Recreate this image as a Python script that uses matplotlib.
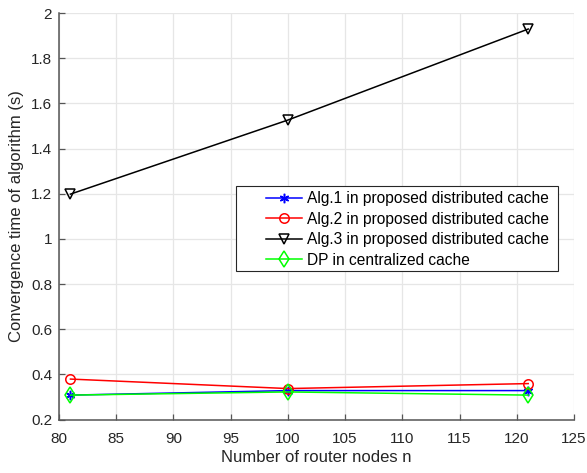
import matplotlib
matplotlib.use("Agg")
import matplotlib.pyplot as plt
from matplotlib.patches import Rectangle

plt.rcParams['font.family'] = ['Liberation Sans', 'DejaVu Sans']

n = [81, 100, 121]
alg1 = [0.308, 0.328, 0.328]
alg2 = [0.379, 0.337, 0.359]
alg3 = [1.198, 1.526, 1.929]
dp = [0.308, 0.322, 0.308]
labels = ['Alg.1 in proposed distributed cache',
          'Alg.2 in proposed distributed cache',
          'Alg.3 in proposed distributed cache',
          'DP in centralized cache']

W, H = 587, 473
fig = plt.figure(figsize=(W/100, H/100), dpi=100)
L, R, T, B = 59, 574, 13, 419.5
ax = fig.add_axes([L/W, 1-B/H, (R-L)/W, (B-T)/H])

ms = 6.8
lw = 1.1
ax.plot(n, alg1, color='#0000ff', marker=(6, 2, 0), ms=ms, mew=1.1, lw=lw, label=labels[0])
ax.plot(n, alg2, color='#ff0000', marker='o', ms=ms, mfc='none', mew=1.1, lw=lw, label=labels[1])
ax.plot(n, alg3, color='#000000', marker='v', ms=ms+0.5, mfc='none', mew=1.1, lw=lw, label=labels[2])
ax.plot(n, dp, color='#00ff00', marker='d', ms=ms+1, mfc='none', mew=1.1, lw=lw, label=labels[3])

ax.set_xlim(80, 125)
ax.set_ylim(0.2, 2)
ax.set_xticks(range(80, 126, 5))
ax.set_yticks([0.2, 0.4, 0.6, 0.8, 1.0, 1.2, 1.4, 1.6, 1.8, 2.0])
ax.set_yticklabels(['0.2', '0.4', '0.6', '0.8', '1', '1.2', '1.4', '1.6', '1.8', '2'])
ax.grid(True, color='#e6e6e6', lw=0.9)
ax.set_axisbelow(True)
ax.tick_params(direction='in', labelsize=11, labelcolor='#262626', color='#555555',
               length=4, width=0.9)
ax.tick_params(axis='x', pad=9)
ax.tick_params(axis='y', pad=5)
ax.spines['top'].set_visible(False)
ax.spines['right'].set_visible(False)
for s in ('left', 'bottom'):
    ax.spines[s].set_color('#555555')
    ax.spines[s].set_linewidth(1.1)
ax.set_xlabel('Number of router nodes n', fontsize=12, color='#262626', labelpad=3)
ax.set_ylabel('Convergence time of algorithm (s)', fontsize=12, color='#262626', labelpad=5)

# legend frame (MATLAB-style wide box)
box = Rectangle((236/W, 1-271/H), (558-236)/W, (271-186)/H,
                transform=fig.transFigure, facecolor='white',
                edgecolor='#262626', lw=0.8, zorder=10, clip_on=False)
ax.add_artist(box)
leg = ax.legend(loc='upper left', bbox_to_anchor=(266/W, 1-191/H),
                bbox_transform=fig.transFigure, fontsize=11.2, frameon=False,
                borderpad=0, labelspacing=0.36,
                handlelength=2.3, handletextpad=0.35, borderaxespad=0)
leg.set_zorder(11)

fig.savefig('out.png', dpi=100)
